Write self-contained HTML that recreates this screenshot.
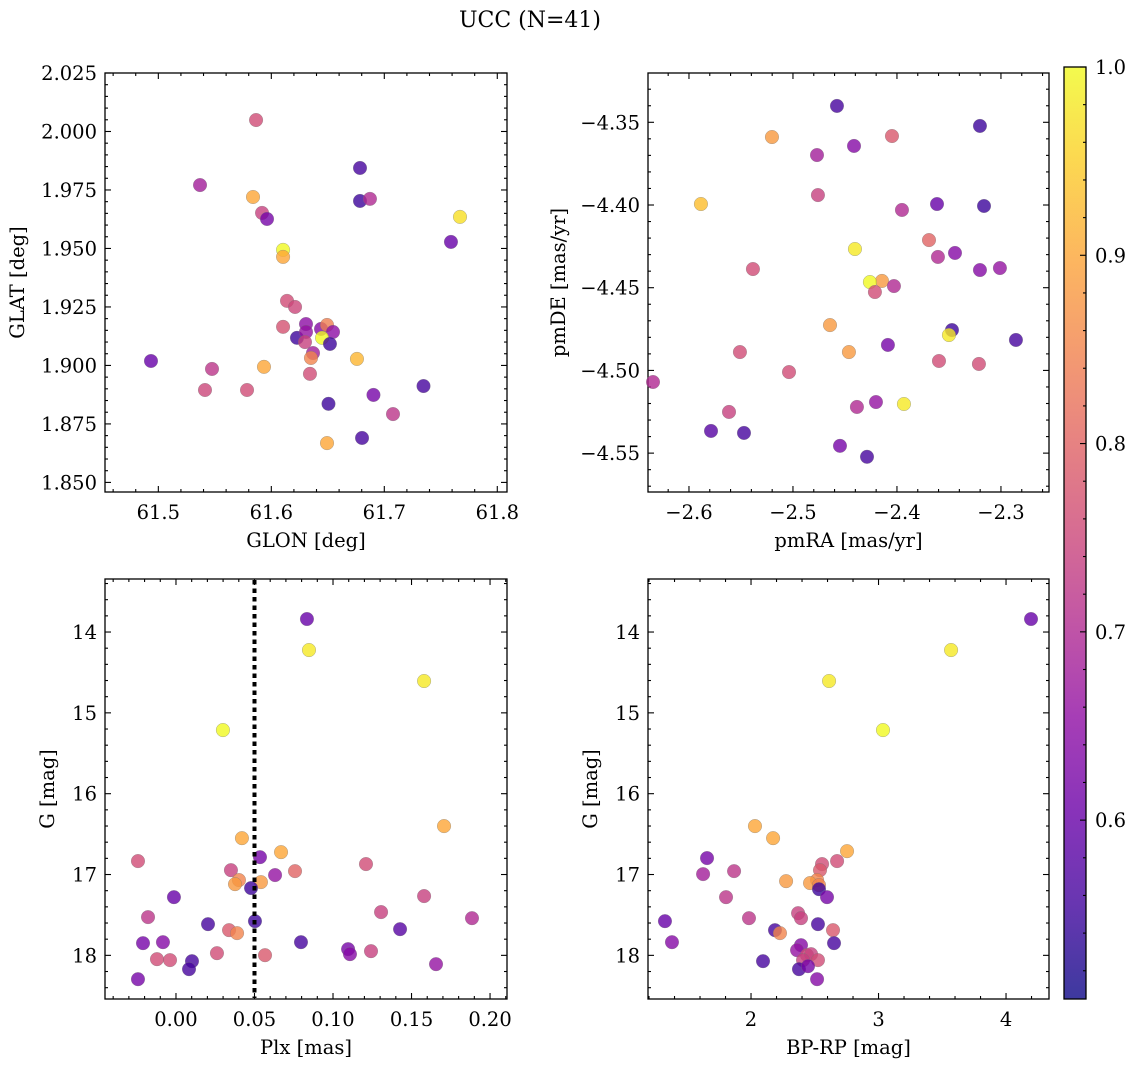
<!DOCTYPE html>
<html><head><meta charset="utf-8"><style>
html,body{margin:0;padding:0;background:#fff}
svg text{font-family:"DejaVu Serif","Liberation Serif",serif;fill:#000}
</style></head><body>
<svg id="fig" width="1136" height="1067" viewBox="0 0 1136 1067" xmlns="http://www.w3.org/2000/svg">
<text x="530" y="27" font-size="22" text-anchor="middle">UCC (N=41)</text>
<defs>
<linearGradient id="cbg" x1="0" y1="1" x2="0" y2="0"></linearGradient>
</defs>
</svg>
<script>
// ---- data ----
const glon=[61.5865,61.5369,61.5838,61.5918,61.5962,61.6785,61.6785,61.6873,61.7670,61.7590,61.6104,61.6104,61.6139,61.6210,61.6104,61.6307,61.6227,61.6307,61.6298,61.6369,61.6440,61.6493,61.6546,61.6449,61.6519,61.6342,61.6351,61.4935,61.5475,61.5935,61.5413,61.5785,61.6758,61.6506,61.6904,61.7347,61.7077,61.6803,61.6493];
const glat=[2.0049,1.9771,1.9720,1.9652,1.9626,1.9844,1.9703,1.9712,1.9635,1.9528,1.9494,1.9464,1.9276,1.9250,1.9165,1.9177,1.9118,1.9143,1.9100,1.9053,1.9156,1.9173,1.9143,1.9118,1.9092,1.8964,1.9032,1.9019,1.8985,1.8994,1.8895,1.8895,1.9028,1.8836,1.8874,1.8912,1.8792,1.8690,1.8668];
const prob1=[.76,.68,.90,.74,.62,.56,.55,.70,.97,.60,1.0,.90,.76,.75,.77,.65,.55,.66,.74,.68,.64,.84,.65,1.0,.55,.76,.85,.60,.72,.90,.75,.76,.92,.55,.62,.56,.72,.56,.90];

const pmra=[-2.4577,-2.5202,-2.4048,-2.3202,-2.4769,-2.4413,-2.4760,-2.5885,-2.3615,-2.3163,-2.3952,-2.3692,-2.4404,-2.3442,-2.3606,-2.5385,-2.3202,-2.3010,-2.4144,-2.4260,-2.4029,-2.4212,-2.4644,-2.3471,-2.3500,-2.2856,-2.4087,-2.5510,-2.4462,-2.3596,-2.3212,-2.5038,-2.6346,-2.3933,-2.4202,-2.4385,-2.5615,-2.5788,-2.5471,-2.4548,-2.4288];
const pmde=[-4.3401,-4.3589,-4.3583,-4.3522,-4.3698,-4.3643,-4.3940,-4.3994,-4.3994,-4.4006,-4.4030,-4.4212,-4.4266,-4.4290,-4.4314,-4.4387,-4.4393,-4.4381,-4.4459,-4.4466,-4.4490,-4.4526,-4.4726,-4.4756,-4.4786,-4.4816,-4.4846,-4.4889,-4.4889,-4.4943,-4.4961,-4.5010,-4.5070,-4.5203,-4.5191,-4.5221,-4.5251,-4.5366,-4.5378,-4.5456,-4.5522];
const prob2=[.56,.88,.78,.55,.68,.64,.74,.93,.60,.55,.70,.80,.98,.64,.70,.76,.64,.66,.88,1.0,.70,.76,.88,.55,.98,.56,.62,.76,.88,.76,.76,.76,.70,.98,.66,.70,.74,.58,.56,.62,.56];

const plx=[0.0834,0.0847,0.1580,0.0299,0.1707,0.0420,0.0669,-0.0242,0.0535,0.1210,0.0758,0.0350,0.0631,-0.0013,0.1580,0.0401,0.0376,0.0541,0.0478,-0.0178,0.1306,0.1885,0.0204,0.0503,0.0338,0.0389,0.1427,-0.0210,-0.0083,0.0796,0.1096,0.1242,0.1108,0.0261,0.0567,-0.0121,-0.0038,0.0102,0.1656,0.0083,-0.0242];
const gmag3=[13.839,14.223,14.606,15.213,16.401,16.550,16.723,16.834,16.785,16.871,16.958,16.946,17.007,17.280,17.267,17.069,17.119,17.094,17.168,17.527,17.465,17.540,17.614,17.577,17.688,17.725,17.676,17.849,17.837,17.837,17.923,17.948,17.985,17.973,17.998,18.047,18.059,18.072,18.109,18.171,18.295];
const prob3=[.60,.98,.98,1.0,.90,.90,.90,.76,.62,.76,.80,.74,.66,.60,.74,.85,.88,.88,.55,.72,.74,.70,.56,.55,.78,.85,.58,.62,.64,.56,.62,.74,.64,.76,.78,.76,.76,.56,.66,.56,.62];

const bprp=[4.196,3.569,2.612,3.035,2.031,2.173,2.753,1.655,2.675,2.557,2.541,1.624,1.867,2.518,2.463,2.533,2.533,2.596,1.804,2.275,1.325,1.984,2.369,2.392,2.525,2.643,2.188,2.227,2.651,1.380,2.392,2.361,2.439,2.471,2.525,2.408,2.094,2.376,2.447,2.518];
const gmag4=[13.839,14.223,14.606,15.213,16.401,16.550,16.711,16.797,16.834,16.871,16.946,16.995,16.958,17.069,17.106,17.131,17.181,17.280,17.280,17.082,17.577,17.540,17.478,17.540,17.614,17.688,17.688,17.725,17.849,17.837,17.874,17.936,17.998,17.985,18.059,18.059,18.072,18.171,18.134,18.295];
const prob4=[.60,.98,.98,1.0,.90,.90,.90,.62,.76,.76,.78,.68,.72,.85,.88,.85,.55,.62,.72,.88,.60,.72,.74,.74,.56,.78,.56,.85,.56,.64,.64,.66,.76,.74,.76,.74,.56,.56,.62,.64];

const plxLine=[0.05];
const cbTicks=[0.6,0.7,0.8,0.9,1.0];

// ---- helpers ----
const NS="http://www.w3.org/2000/svg";
const svg=document.getElementById('fig');
const FS=19.5;
function mk(tag,attrs,parent){const e=document.createElementNS(NS,tag);for(const k in attrs)e.setAttribute(k,attrs[k]);(parent||svg).appendChild(e);return e;}
const plasma=[[13,8,135],[65,4,157],[106,0,168],[143,13,164],[177,42,144],[204,71,120],[225,100,98],[242,132,75],[252,166,54],[252,206,37],[240,249,33]];
const VMIN=0.505,VMAX=1.0;
function cmap(v){let t=(v-VMIN)/(VMAX-VMIN);t=Math.max(0,Math.min(1,t));const f=t*10,i=Math.min(9,Math.floor(f)),r=f-i;const a=plasma[i],b=plasma[i+1];return 'rgb('+a.map((c,k)=>Math.round(c+(b[k]-c)*r)).join(',')+')';}
function lin(d0,d1,r0,r1){return v=>r0+(v-d0)/(d1-d0)*(r1-r0);}
function fmt(v,dec){let s=v.toFixed(dec);if(s.startsWith('-'))s='\u2212'+s.slice(1);return s;}

function panel(name,box,xd,yd,xt,yt,xminor,yminor,xdec,ydec,xlabel,ylabel,ylx){
  const g=mk('g',{});
  
  
  const [L,T,R,B]=box;
  const sx=lin(xd[0],xd[1],L,R), sy=lin(yd[0],yd[1],B,T);
  const tg=mk('g',{stroke:'#000','stroke-width':1.1},g);
  
  
  const lo=Math.min(xd[0],xd[1]),hi=Math.max(xd[0],xd[1]);
  for(let v=Math.ceil(lo/xminor-1e-6)*xminor;v<=hi+1e-9;v+=xminor){const x=sx(v);const maj=xt.some(t=>Math.abs(t-v)<xminor/3);const len=maj?6:3;
    mk('line',{x1:x,x2:x,y1:B,y2:B-len},tg);mk('line',{x1:x,x2:x,y1:T,y2:T+len},tg);}
  const ylo=Math.min(yd[0],yd[1]),yhi=Math.max(yd[0],yd[1]);
  for(let v=Math.ceil(ylo/yminor-1e-6)*yminor;v<=yhi+1e-9;v+=yminor){const y=sy(v);const maj=yt.some(t=>Math.abs(t-v)<yminor/3);const len=maj?6:3;
    mk('line',{x1:L,x2:L+len,y1:y,y2:y},tg);mk('line',{x1:R,x2:R-len,y1:y,y2:y},tg);}
  xt.forEach(v=>{const t=mk('text',{x:sx(v),y:B+27,'font-size':FS,'text-anchor':'middle'},g);t.textContent=fmt(v,xdec);
    
    });
  yt.forEach(v=>{const t=mk('text',{x:L-8,y:sy(v)+7,'font-size':FS,'text-anchor':'end'},g);t.textContent=fmt(v,ydec);
    
    });
  const xl=mk('text',{x:(L+R)/2,y:B+55,'font-size':FS,'text-anchor':'middle'},g);xl.textContent=xlabel;
  
  
  const yl=mk('text',{x:ylx,y:(T+B)/2,'font-size':FS,'text-anchor':'middle',transform:'rotate(-90 '+ylx+' '+(T+B)/2+')'},g);yl.textContent=ylabel;
  
  
  const fr=mk('rect',{x:L,y:T,width:R-L,height:B-T,fill:'none',stroke:'#000','stroke-width':1.3},g);
  
  
  return {g,sx,sy,box};
}
function scatter(p,xs,ys,cs){
  const pg=mk('g',{},p.g);
  
  
  xs.forEach((v,i)=>{const c=mk('circle',{cx:p.sx(v),cy:p.sy(ys[i]),r:6.8,fill:cmap(cs[i]),'fill-opacity':0.8,stroke:'#777','stroke-opacity':0.6,'stroke-width':0.5},pg);
    
    });
}

const p1=panel('glon-glat-panel',[105,73,507,492],[61.4528,61.8086],[1.8459,2.025],[61.5,61.6,61.7,61.8],[1.850,1.875,1.900,1.925,1.950,1.975,2.000,2.025],0.02,0.005,1,3,'GLON [deg]','GLAT [deg]',24);
scatter(p1,glon,glat,prob1);
const p2=panel('pm-panel',[648,73,1049,492],[-2.6394,-2.2538],[-4.5735,-4.3202],[-2.6,-2.5,-2.4,-2.3],[-4.55,-4.50,-4.45,-4.40,-4.35],0.02,0.01,1,2,'pmRA [mas/yr]','pmDE [mas/yr]',565);
scatter(p2,pmra,pmde,prob2);
const p3=panel('plx-g-panel',[105,579,507,999],[-0.0452,0.2108],[18.54,13.344],[0.00,0.05,0.10,0.15,0.20],[14,15,16,17,18],0.01,0.2,2,0,'Plx [mas]','G [mag]',54);
scatter(p3,plx,gmag3,prob3);
plxLine.forEach(v=>{const l=mk('line',{x1:p3.sx(v),x2:p3.sx(v),y1:580,y2:998,stroke:'#000','stroke-width':4,'stroke-dasharray':'4.5,4'},p3.g);
  
  });
const p4=panel('cmd-panel',[648,579,1049,999],[1.192,4.337],[18.54,13.344],[2,3,4],[14,15,16,17,18],0.2,0.2,0,0,'BP-RP [mag]','G [mag]',597);
scatter(p4,bprp,gmag4,prob4);

// ---- colorbar ----
const grad=document.getElementById('cbg');
for(let k=0;k<=20;k++){const v=VMIN+(VMAX-VMIN)*k/20;mk('stop',{offset:(k/20),'stop-color':cmap(v),'stop-opacity':0.8},grad);}
const cb=mk('g',{});


const CT=67,CB=999,CL=1064,CR=1086;
const cy=lin(VMIN,VMAX,CB,CT);
mk('rect',{x:CL,y:CT,width:CR-CL,height:CB-CT,fill:'url(#cbg)'},cb);
for(let v=0.52;v<=1.0001;v+=0.02){const y=cy(v);const maj=cbTicks.some(t=>Math.abs(t-v)<0.005);mk('line',{x1:CR,x2:CR-(maj?6:3),y1:y,y2:y,stroke:'#000','stroke-width':1.1},cb);}
cbTicks.forEach(v=>{const t=mk('text',{x:CR+9,y:cy(v)+7,'font-size':FS},cb);t.textContent=v.toFixed(1);
  
  });
mk('rect',{x:CL,y:CT,width:CR-CL,height:CB-CT,fill:'none',stroke:'#000','stroke-width':1.3},cb);
</script>
</body></html>
